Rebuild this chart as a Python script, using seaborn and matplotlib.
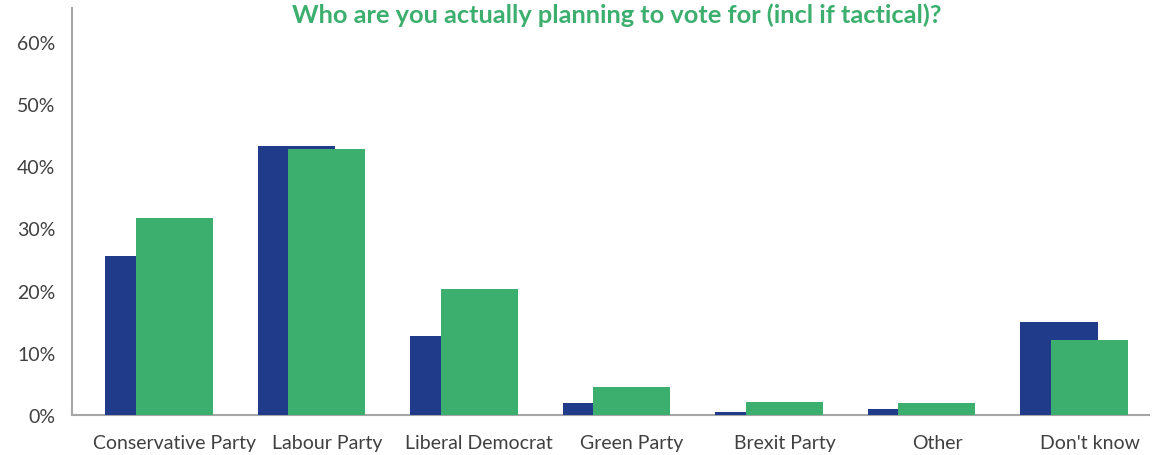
import numpy as np
import pandas as pd
import matplotlib
matplotlib.use("Agg")
import matplotlib.pyplot as plt
import seaborn as sns
from matplotlib.ticker import PercentFormatter

categories = ["Conservative Party", "Labour Party", "Liberal Democrat", "Green Party",
              "Brexit Party", "Other", "Don't know"]
series_blue = [25.6, 43.2, 12.7, 2.0, 0.5, 1.0, 15.0]
series_green = [31.7, 42.8, 20.3, 4.5, 2.1, 2.0, 12.1]
ytick_values = [0, 10, 20, 30, 40, 50, 60]

BLUE = "#213B8B"
GREEN = "#3CAF6F"
TEXT = "#404040"
AXIS = "#A6A6A6"

sns.set_theme(style="white")
plt.rcParams["font.family"] = ["Lato", "DejaVu Sans"]

fig = plt.figure(figsize=(11.53, 4.56), dpi=100)
ax = fig.add_axes([72/1153, 40/456, (1149-72)/1153, (416-9)/456])

idx = np.arange(len(categories))
df_b = pd.DataFrame({"pos": idx - 0.1, "val": series_blue})
df_g = pd.DataFrame({"pos": idx + 0.1, "val": series_green})

sns.barplot(data=df_b, x="pos", y="val", native_scale=True, width=0.505,
            color=BLUE, saturation=1, linewidth=0, ax=ax, zorder=2)
sns.barplot(data=df_g, x="pos", y="val", native_scale=True, width=0.505,
            color=GREEN, saturation=1, linewidth=0, ax=ax, zorder=3)

ax.set_xlim(-0.57, 6.49)
ax.set_ylim(0, 65.4)
ax.set_yticks(ytick_values)
ax.yaxis.set_major_formatter(PercentFormatter(decimals=0))
ax.set_xticks(idx + 0.1)
ax.set_xticklabels(categories)
ax.set_xlabel("")
ax.set_ylabel("")
ax.tick_params(axis="both", length=0, labelsize=14, labelcolor=TEXT)
ax.tick_params(axis="x", pad=14)
ax.tick_params(axis="y", pad=12)

for s in ["top", "right"]:
    ax.spines[s].set_visible(False)
for s in ["left", "bottom"]:
    ax.spines[s].set_color(AXIS)
    ax.spines[s].set_linewidth(1.5)
    ax.spines[s].set_zorder(1)
ax.grid(False)

fig.text(617/1153, 1 - 15/456, "Who are you actually planning to vote for (incl if tactical)?",
         ha="center", va="center", fontsize=18.3, fontweight="bold", color=GREEN)

fig.savefig("out.png", dpi=100)
